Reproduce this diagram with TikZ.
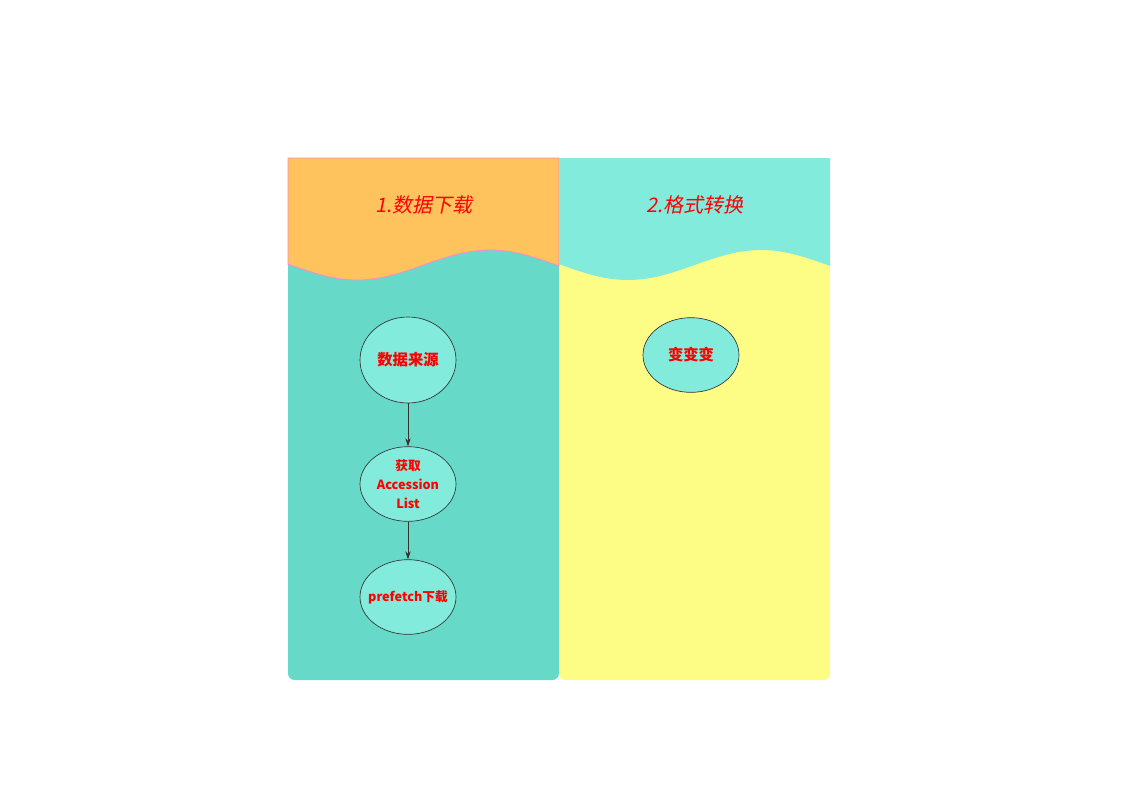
\documentclass[tikz,border=0pt]{standalone}
\usepackage{fontspec}
\usetikzlibrary{shapes.geometric,arrows.meta}
\newfontfamily\cjk{Noto Sans CJK SC}
\newfontfamily\cjkit{Noto Sans CJK SC}[FakeSlant=0.2]
\definecolor{hdrorange}{HTML}{FFC35E}
\definecolor{hdrcyan}{HTML}{83EBDC}
\definecolor{bodyteal}{HTML}{66D9C9}
\definecolor{bodyyellow}{HTML}{FDFD85}
\definecolor{nodefill}{HTML}{83EBDC}
\definecolor{pinkline}{HTML}{FF88CC}
\definecolor{txtred}{HTML}{FF0000}
\definecolor{edgegray}{HTML}{333333}
\tikzset{
  proc/.style={ellipse,draw=edgegray,line width=0.5pt,fill=nodefill,inner sep=0pt,
    minimum width=72pt,align=center,text=txtred,font=\cjk\bfseries\fontsize{9.5}{14}\selectfont},
  bigtext/.style={font=\cjk\bfseries\fontsize{11.5}{14}\selectfont},
  lanetitle/.style={text=txtred,font=\cjkit\fontsize{15}{17}\selectfont},
  arr/.style={-{Stealth[length=6pt,width=4pt]},draw=edgegray,line width=0.6pt}
}
\begin{document}
\begin{tikzpicture}[x=0.75pt,y=-0.75pt]
\useasboundingbox (0,0) rectangle (1123,794);
% lane 1 body
\fill[bodyteal,rounded corners=5] (288,158) -- (288,680) -- (559,680) -- (559,158);
% lane 2 body
\fill[bodyyellow,rounded corners=5] (559,158) -- (559,680) -- (830,680) -- (830,158);
% lane 1 header
\fill[hdrorange] (559,265) -- (559,158) -- (288,158) -- (288,265)
  -- plot[domain=288:559,samples=60] (\x,{265-15*sin((\x-423.5)/133*180)}) -- cycle;
\draw[pinkline,line width=0.6pt] (559,265) -- (559,158) -- (288,158) -- (288,265)
  -- plot[domain=288:559,samples=60] (\x,{265-15*sin((\x-423.5)/133*180)});
% lane 2 header
\fill[hdrcyan] (830,265) -- (830,158) -- (559,158) -- (559,265)
  -- plot[domain=559:830,samples=60] (\x,{265-15*sin((\x-694.5)/133*180)}) -- cycle;
% titles
\node[lanetitle] (t1) at (424,205) {1.数据下载};
\node[lanetitle] (t2) at (695,205) {2.格式转换};
% nodes
\node[proc,bigtext,minimum height=64.5pt] (n1) at (408,360) {数据来源};
\node[proc,minimum height=56pt] (n2) at (408,484) {获取\\Accession\\List};
\node[proc,minimum height=56pt] (n3) at (408,597) {\makebox[0pt]{prefetch下载}};
\node[proc,bigtext,minimum height=56pt] (n4) at (691,355) {变变变};
\draw[arr] (n1) -- (n2);
\draw[arr] (n2) -- (n3);
\end{tikzpicture}
\end{document}
